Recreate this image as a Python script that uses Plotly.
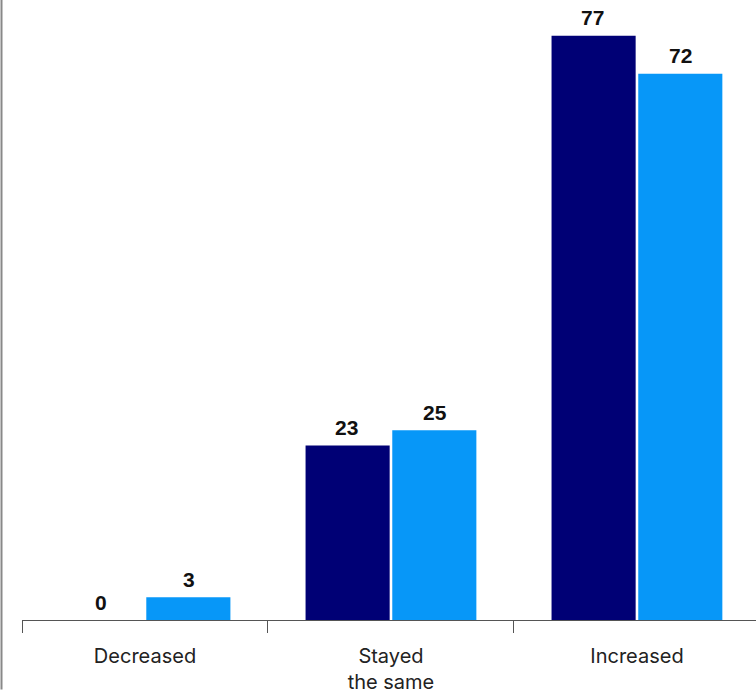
import plotly.graph_objects as go

categories = ["Decreased", "Stayed<br>the same", "Increased"]
series_a = [0, 23, 77]
series_b = [3, 25, 72]

dark = "#000075"
light = "#0797f8"

fig = go.Figure()
for vals, col in [(series_a, dark), (series_b, light)]:
    fig.add_trace(go.Bar(
        x=categories, y=vals, marker=dict(color=col, line=dict(width=0)),
        showlegend=False, hoverinfo="skip",
    ))

annotations = []
for vals, shift in [(series_a, -44), (series_b, 44)]:
    for c, v in zip(categories, vals):
        annotations.append(dict(
            x=c, y=v, xref="x", yref="y", text=f"<b>{v}</b>", showarrow=False,
            xshift=shift, yshift=18, yanchor="middle",
            font=dict(family="Liberation Sans, Arial", size=21, color="#111111"),
        ))

fig.update_layout(
    width=756, height=694,
    margin=dict(l=22, r=0, t=0, b=70),
    paper_bgcolor="#ffffff", plot_bgcolor="#ffffff",
    barmode="group", bargap=0.295, bargroupgap=0.03,
    xaxis=dict(
        range=[-0.5, 2.484], showgrid=False, showline=True, linecolor="#555555", linewidth=1,
        ticks="outside", tickson="boundaries", ticklen=12, tickcolor="#555555", tickwidth=1,
        ticklabelstandoff=18,
        tickfont=dict(family="Inter, Roboto, sans-serif", size=20, color="#222222"),
    ),
    yaxis=dict(range=[0, 81.72], visible=False, showgrid=False, zeroline=False),
    annotations=annotations,
    shapes=[dict(type="line", xref="paper", yref="paper",
                 x0=-20.5/734, x1=-20.5/734, y0=-70/624, y1=1,
                 line=dict(color="#888888", width=2))],
)

fig.write_html("out.html", config={"displayModeBar": False},
               post_script="document.body.style.margin='0';")
